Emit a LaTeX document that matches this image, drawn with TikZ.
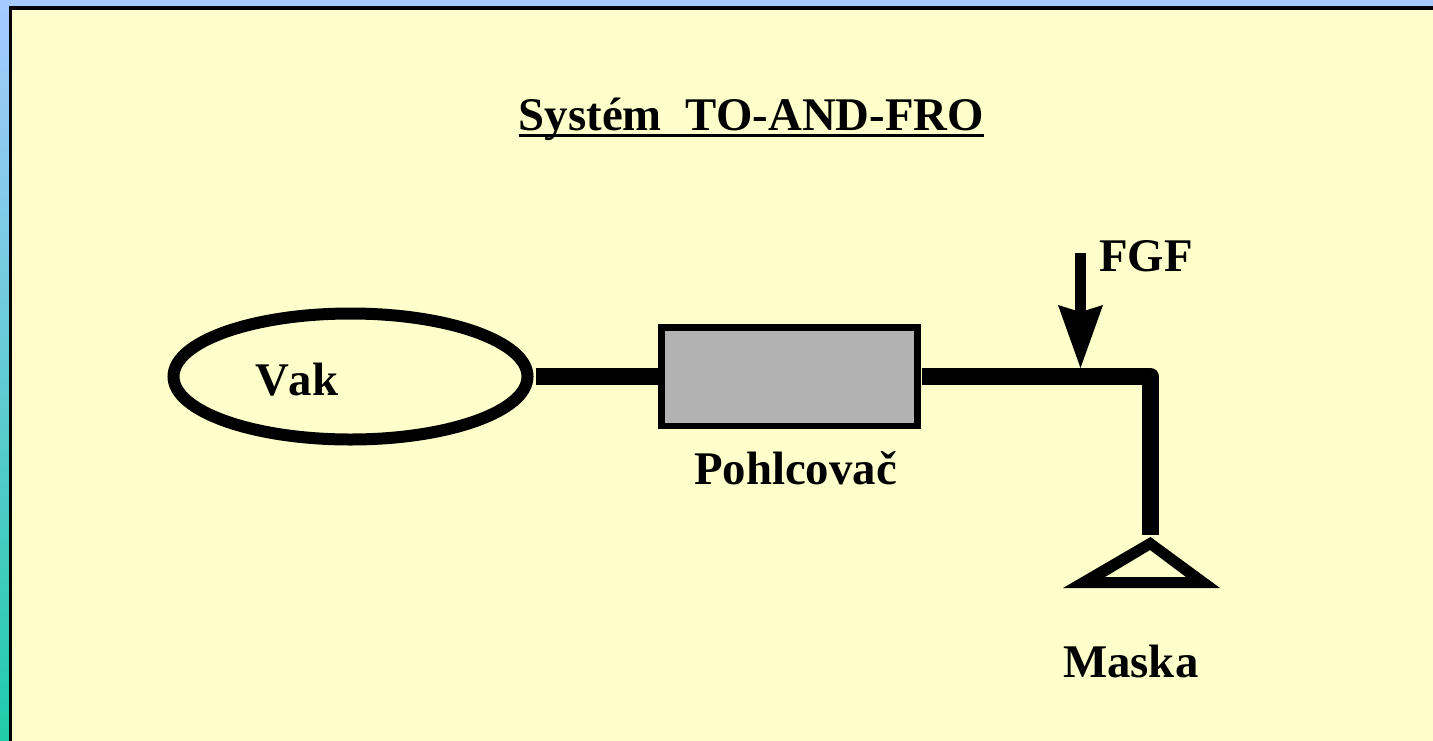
\documentclass[tikz,border=0pt]{standalone}
\usepackage{fontspec}
\setmainfont[Kerning=Off]{Liberation Serif}
\usetikzlibrary{arrows.meta, positioning, shapes.geometric}

\definecolor{skyblue}{HTML}{A6CAFF}
\definecolor{seagreen}{HTML}{20CCAA}
\definecolor{panelyellow}{HTML}{FFFFCC}
\definecolor{sodagray}{HTML}{B2B2B2}

\tikzset{
  tube/.style={line width=17pt, line join=round},
  caption/.style={font=\fontsize{46.8pt}{50pt}\selectfont\bfseries, inner sep=0pt}
}

\begin{document}
\begin{tikzpicture}[x=1pt, y=-1pt]
\useasboundingbox (0,0) rectangle (1433,740);

% backdrop
\shade[top color=skyblue, bottom color=seagreen] (0,0) rectangle (1433,740);
\fill[panelyellow] (10,8) rectangle (1433,741);
\draw[line width=3.5pt, miter limit=10] (10.5,741) -- (10.5,7.75) -- (1433,7.75);

\node at (751.5,130) (title) [caption, anchor=base] {Systém\ \ TO-AND-FRO};
\draw[line width=3.5pt] ([yshift=-5.5pt]title.base west) -- ([yshift=-5.5pt]title.base east);

\node at (350.5,376.5) (bag) [draw, ellipse, line width=12pt, minimum width=354pt, minimum height=126pt, inner sep=0pt, outer sep=8pt] {};
\node at (255,395) (baglabel) [caption, anchor=base west] {Vak};

\node at (789.5,376.5) (absorber) [draw, fill=sodagray, line width=6.5pt, minimum width=256pt, minimum height=98.5pt, inner sep=0pt, outer sep=4pt] {};
\node at (795.5,484) (absorberlabel) [caption, anchor=base] {Pohlcovač};

\coordinate (maskneck) at (1150.5,535);
\coordinate (fgfstart) at (1080.5,253);
\coordinate (fgfend) at (1080.5,368);

\draw[tube, shorten >=-2pt] (bag.east) -- (absorber.west);
\draw[tube] (absorber.east) -| (maskneck);

\draw[line width=11pt, -{Stealth[length=63pt, width=45pt, inset=7pt, line width=0pt]}] (fgfstart) -- (fgfend);
\node at (1099,271) (fgflabel) [caption, anchor=base west] {FGF};

% mask
\fill[even odd rule] (1150.5,537) -- (1220,588) -- (1063,588) -- cycle
  (1150,550) -- (1186,577) -- (1105,577) -- cycle;
\node at (1063,677) (masklabel) [caption, anchor=base west] {Maska};
\end{tikzpicture}
\end{document}
